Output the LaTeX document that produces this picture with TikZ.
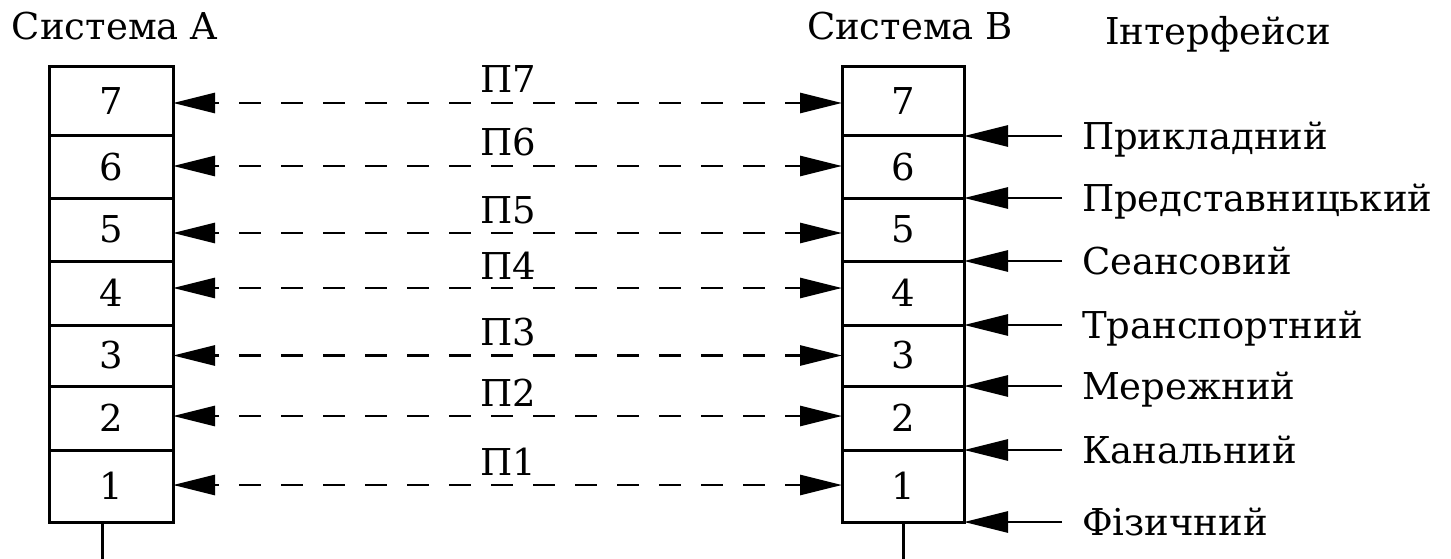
\documentclass[tikz,border=0pt]{standalone}
\usepackage{fontspec}
\setmainfont{DejaVu Serif}
\usetikzlibrary{arrows.meta}
\begin{document}
\begin{tikzpicture}[x=1pt,y=-1pt,
  txt/.style={font=\fontsize{37}{40}\selectfont, inner sep=0pt, outer sep=0pt},
  cellbox/.style={draw, line width=3pt, inner sep=0pt, outer sep=0pt, font=\fontsize{37}{40}\selectfont},
  peer/.style={line width=2.8pt, dash pattern=on 22pt off 20pt, dash phase=17pt,
    {Triangle[length=42pt,width=20pt]}-{Triangle[length=42pt,width=20pt]}},
  iface/.style={line width=2.8pt, -{Triangle[length=44pt,width=21pt]}},
  stem/.style={line width=3pt}
  ]
\useasboundingbox (0,0) rectangle (1451,559);
% headers
\node[txt, anchor=base west] (ha) at (12,40) {Система A};
\node[txt, anchor=base west] (hb) at (807,40) {Система B};
\node[txt, anchor=base west] (hi) at (1105,45) {Інтерфейси};
% left stack
\begin{scope}[every node/.append style={cellbox, minimum width=124pt}]
\node[minimum height=69pt] (a7) at (111,101.5) {7};
\node[minimum height=62pt] (a6) at (111,167) {6};
\node[minimum height=63pt] (a5) at (111,229.5) {5};
\node[minimum height=64pt] (a4) at (111,293) {4};
\node[minimum height=61pt] (a3) at (111,355.5) {3};
\node[minimum height=64pt] (a2) at (111,418) {2};
\node[minimum height=72pt] (a1) at (111,486) {1};
\end{scope}
% right stack
\begin{scope}[every node/.append style={cellbox, minimum width=122pt}]
\node[minimum height=69pt] (b7) at (903,101.5) {7};
\node[minimum height=62pt] (b6) at (903,167) {6};
\node[minimum height=63pt] (b5) at (903,229.5) {5};
\node[minimum height=64pt] (b4) at (903,293) {4};
\node[minimum height=61pt] (b3) at (903,355.5) {3};
\node[minimum height=64pt] (b2) at (903,418) {2};
\node[minimum height=72pt] (b1) at (903,486) {1};
\end{scope}
% peer protocol arrows
\draw[peer] ([yshift=-1.5pt]a7.east) -- ([yshift=-1.5pt]b7.west);
\draw[peer] ([yshift=1pt]a6.east) -- ([yshift=1pt]b6.west);
\draw[peer] ([yshift=-3.5pt]a5.east) -- ([yshift=-3.5pt]b5.west);
\draw[peer] ([yshift=5pt]a4.east) -- ([yshift=5pt]b4.west);
\draw[peer] (a3.east) -- (b3.west);
\draw[peer] ([yshift=2pt]a2.east) -- ([yshift=2pt]b2.west);
\draw[peer] ([yshift=1pt]a1.east) -- ([yshift=1pt]b1.west);
% peer labels
\node[txt, anchor=base] (p7) at (508,93) {П7};
\node[txt, anchor=base] (p6) at (508,156) {П6};
\node[txt, anchor=base] (p5) at (508,223) {П5};
\node[txt, anchor=base] (p4) at (508,279) {П4};
\node[txt, anchor=base] (p3) at (508,345) {П3};
\node[txt, anchor=base] (p2) at (508,406) {П2};
\node[txt, anchor=base] (p1) at (508,475) {П1};
% interface arrows
\coordinate (i7) at (1062,136);
\coordinate (i6) at (1062,198);
\coordinate (i5) at (1062,261);
\coordinate (i4) at (1062,325);
\coordinate (i3) at (1062,386);
\coordinate (i2) at (1062,450);
\coordinate (i1) at (1062,522);
\draw[iface] (i7) -- (b7.south east);
\draw[iface] (i6) -- (b6.south east);
\draw[iface] (i5) -- (b5.south east);
\draw[iface] (i4) -- (b4.south east);
\draw[iface] (i3) -- (b3.south east);
\draw[iface] (i2) -- (b2.south east);
\draw[iface] (i1) -- (b1.south east);
% interface labels
\node[txt, anchor=base west] (l7) at (1082,149.5) {Прикладний};
\node[txt, anchor=base west] (l6) at (1082,211.5) {Представницький};
\node[txt, anchor=base west] (l5) at (1082,274.5) {Сеансовий};
\node[txt, anchor=base west] (l4) at (1082,338.5) {Транспортний};
\node[txt, anchor=base west] (l3) at (1082,399.5) {Мережний};
\node[txt, anchor=base west] (l2) at (1082,463.5) {Канальний};
\node[txt, anchor=base west] (l1) at (1082,535.5) {Фізичний};
% stems to the medium
\coordinate (ga) at (102,559);
\coordinate (gb) at (903,559);
\draw[stem] (ga |- a1.south) -- (ga);
\draw[stem] (gb |- b1.south) -- (gb);
\end{tikzpicture}
\end{document}
